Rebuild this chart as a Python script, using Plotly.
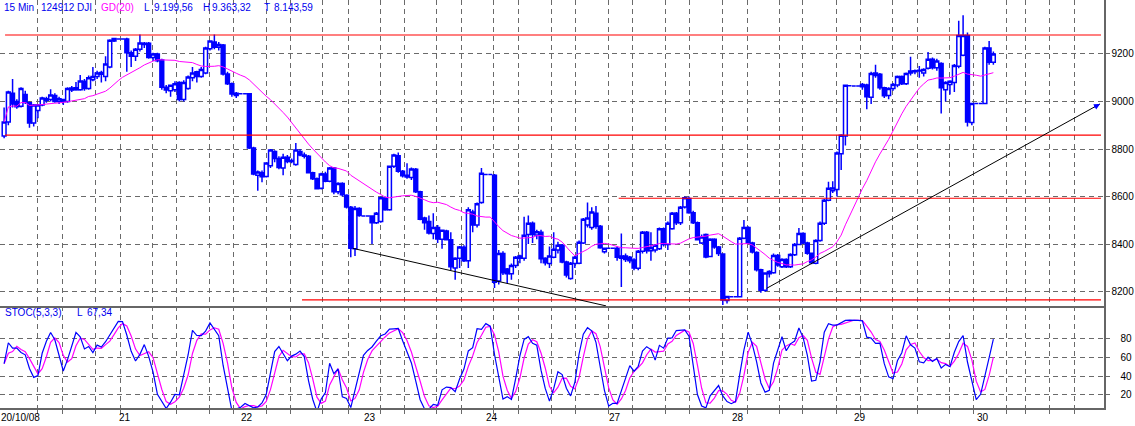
import numpy as np
import pandas as pd
import plotly.graph_objects as go

# ---------------- data ----------------
DAY_LABELS = ["20/10/08", "21", "22", "23", "24", "27", "28", "29", "30"]

# each bar: [open, high, low, close]
D20 = [[8855, 8975, 8845, 8914], [8914, 9045, 8900, 9040], [9035, 9095, 8975, 8990],
       [9000, 9010, 8970, 8978], [8980, 9060, 8975, 9055], [9030, 9045, 8990, 8998],
       [8995, 9000, 8890, 8910], [8910, 8990, 8895, 8985], [8962, 8990, 8930, 8985],
       [8985, 9020, 8980, 9015], [9005, 9020, 8995, 9012], [9008, 9052, 9000, 9027],
       [9025, 9035, 8995, 9000], [9000, 9020, 8990, 9012], [9000, 9012, 8985, 9008],
       [9000, 9060, 8995, 9055], [9048, 9065, 9040, 9057], [9050, 9082, 9045, 9058],
       [9050, 9112, 9045, 9086], [9085, 9095, 9045, 9055], [9055, 9110, 9050, 9100],
       [9092, 9145, 9085, 9105], [9105, 9130, 9095, 9120], [9115, 9130, 9080, 9122],
       [9105, 9190, 9085, 9158], [9145, 9262, 9140, 9258], [9255, 9268, 9250, 9265],
       [9263, 9263, 9263, 9263], [9263, 9263, 9263, 9263]]
D21 = [[9263, 9268, 9125, 9205], [9205, 9215, 9145, 9190], [9190, 9225, 9170, 9220],
       [9220, 9282, 9210, 9246], [9240, 9250, 9225, 9245], [9245, 9250, 9180, 9185],
       [9185, 9205, 9170, 9200], [9200, 9205, 9165, 9172], [9175, 9180, 9050, 9060],
       [9060, 9070, 9035, 9048], [9045, 9072, 9020, 9068], [9050, 9085, 9040, 9075],
       [9080, 9085, 9000, 9008], [9008, 9090, 9000, 9080], [9055, 9110, 9050, 9103],
       [9100, 9145, 9085, 9120], [9125, 9130, 9080, 9105], [9105, 9145, 9100, 9135],
       [9120, 9230, 9115, 9225], [9222, 9258, 9215, 9255], [9250, 9282, 9220, 9228],
       [9228, 9250, 9215, 9240], [9238, 9242, 9110, 9116], [9116, 9125, 9070, 9075],
       [9075, 9080, 9020, 9032], [9025, 9040, 9015, 9035],
       [9033, 9033, 9033, 9033], [9033, 9033, 9033, 9033]]
D22 = [[9033, 9036, 8800, 8804], [8804, 8810, 8690, 8695], [8690, 8710, 8625, 8703],
       [8700, 8710, 8660, 8683], [8685, 8745, 8680, 8741], [8730, 8800, 8720, 8796],
       [8790, 8795, 8745, 8760], [8760, 8770, 8715, 8722], [8720, 8780, 8690, 8766],
       [8765, 8775, 8740, 8748], [8748, 8760, 8740, 8752], [8735, 8826, 8730, 8796],
       [8790, 8800, 8770, 8775], [8775, 8785, 8760, 8770], [8770, 8775, 8698, 8700],
       [8700, 8705, 8670, 8675], [8675, 8680, 8630, 8633], [8635, 8700, 8630, 8695],
       [8695, 8705, 8660, 8665], [8665, 8725, 8660, 8720], [8720, 8725, 8610, 8620],
       [8620, 8660, 8610, 8655], [8655, 8660, 8600, 8608], [8606, 8610, 8550, 8556],
       [8555, 8560, 8345, 8383], [8380, 8560, 8350, 8550], [8550, 8555, 8515, 8520],
       [8518, 8518, 8518, 8518], [8518, 8518, 8518, 8518]]
D23 = [[8518, 8520, 8400, 8490], [8490, 8535, 8485, 8530], [8495, 8600, 8490, 8595],
       [8594, 8600, 8540, 8545], [8545, 8730, 8540, 8728], [8728, 8780, 8720, 8775],
       [8772, 8785, 8700, 8707], [8707, 8712, 8680, 8688], [8682, 8740, 8675, 8690],
       [8680, 8722, 8670, 8716], [8715, 8720, 8615, 8620], [8620, 8625, 8500, 8505],
       [8510, 8515, 8460, 8490], [8495, 8520, 8440, 8447], [8445, 8530, 8420, 8470],
       [8470, 8480, 8405, 8422], [8420, 8462, 8380, 8458], [8455, 8460, 8415, 8418],
       [8418, 8450, 8290, 8305], [8300, 8345, 8250, 8340], [8340, 8392, 8300, 8388],
       [8387, 8395, 8325, 8330], [8330, 8555, 8300, 8545], [8535, 8545, 8450, 8480],
       [8480, 8575, 8470, 8570], [8575, 8720, 8570, 8698],
       [8693, 8693, 8693, 8693], [8693, 8693, 8693, 8693]]
D24 = [[8690, 8695, 8215, 8240], [8245, 8375, 8230, 8360], [8360, 8370, 8270, 8280],
       [8295, 8300, 8236, 8275], [8275, 8318, 8250, 8310], [8310, 8350, 8300, 8345],
       [8340, 8355, 8320, 8350], [8340, 8515, 8330, 8437], [8440, 8520, 8400, 8488],
       [8488, 8495, 8405, 8440], [8438, 8460, 8420, 8452], [8450, 8460, 8320, 8338],
       [8340, 8345, 8310, 8322], [8318, 8390, 8300, 8350], [8345, 8450, 8340, 8378],
       [8375, 8410, 8360, 8395], [8395, 8400, 8320, 8325], [8325, 8330, 8260, 8270],
       [8255, 8325, 8250, 8320], [8318, 8350, 8300, 8345], [8320, 8415, 8315, 8408],
       [8405, 8510, 8400, 8505], [8480, 8575, 8470, 8510], [8470, 8555, 8460, 8535],
       [8530, 8560, 8465, 8475], [8475, 8480, 8380, 8385], [8368, 8385, 8360, 8383],
       [8383, 8383, 8383, 8383], [8383, 8383, 8383, 8383]]
D27 = [[8383, 8390, 8330, 8345], [8350, 8445, 8220, 8340], [8350, 8360, 8325, 8335],
       [8345, 8350, 8320, 8330], [8333, 8340, 8290, 8300], [8298, 8375, 8290, 8370],
       [8370, 8455, 8360, 8450], [8450, 8455, 8360, 8372], [8372, 8450, 8330, 8385],
       [8375, 8400, 8365, 8395], [8380, 8470, 8375, 8465], [8465, 8470, 8390, 8398],
       [8398, 8495, 8375, 8488], [8465, 8535, 8460, 8530], [8530, 8535, 8480, 8490],
       [8490, 8560, 8480, 8555], [8556, 8600, 8550, 8595], [8592, 8600, 8528, 8532],
       [8532, 8540, 8485, 8490], [8490, 8495, 8415, 8418], [8405, 8440, 8400, 8430],
       [8440, 8445, 8340, 8346], [8348, 8425, 8345, 8420], [8420, 8425, 8380, 8388],
       [8388, 8392, 8350, 8360], [8358, 8362, 8143.59, 8165], [8163, 8182, 8150, 8180],
       [8178, 8178, 8178, 8178], [8178, 8178, 8178, 8178]]
D28 = [[8178, 8430, 8175, 8425], [8425, 8502, 8420, 8470], [8470, 8475, 8400, 8405],
       [8405, 8410, 8360, 8367], [8365, 8370, 8285, 8292], [8292, 8296, 8195, 8206],
       [8206, 8282, 8200, 8278], [8275, 8290, 8260, 8285], [8280, 8360, 8275, 8352],
       [8352, 8358, 8305, 8312], [8305, 8340, 8300, 8335], [8335, 8340, 8300, 8305],
       [8305, 8362, 8300, 8356], [8355, 8405, 8350, 8398], [8398, 8468, 8395, 8445],
       [8445, 8450, 8400, 8405], [8405, 8410, 8355, 8362], [8362, 8365, 8315, 8322],
       [8320, 8420, 8315, 8415], [8415, 8495, 8410, 8488], [8488, 8590, 8480, 8585],
       [8585, 8662, 8580, 8635], [8625, 8665, 8615, 8636], [8630, 8790, 8600, 8783],
       [8780, 8862, 8712, 8858], [8855, 9070, 8815, 9068], [9066, 9066, 9066, 9066],
       [9065, 9065, 9065, 9065], [9065, 9065, 9065, 9065]]
D29 = [[9062, 9078, 9050, 9072], [9070, 9075, 8968, 9020], [9018, 9125, 8990, 9118],
       [9110, 9155, 9100, 9120], [9115, 9120, 9050, 9058], [9058, 9062, 9015, 9024],
       [9025, 9060, 9010, 9055], [9055, 9078, 9045, 9072], [9070, 9110, 9060, 9105],
       [9105, 9110, 9070, 9075], [9075, 9122, 9070, 9118], [9120, 9188, 9110, 9128],
       [9125, 9135, 9115, 9130], [9128, 9150, 9100, 9132], [9120, 9140, 9105, 9135],
       [9140, 9208, 9135, 9178], [9178, 9185, 9135, 9142], [9142, 9180, 9130, 9170],
       [9160, 9165, 8950, 9058], [9050, 9085, 9000, 9080], [9072, 9090, 9030, 9085],
       [9080, 9158, 9040, 9152], [9148, 9340, 9140, 9278], [9195, 9363.32, 9190, 9278],
       [9278, 9290, 8895, 8914], [8912, 8995, 8900, 8992],
       [8992, 8992, 8992, 8992], [8992, 8992, 8992, 8992]]
D30 = [[8992, 9230, 8990, 9225], [9225, 9255, 9155, 9165], [9165, 9210, 9155, 9199.56]]

DAYS = [D20, D21, D22, D23, D24, D27, D28, D29, D30]

HEADER = [("15 Min", 3, "#0000ee"), ("124912", 40, "#0000ee"), ("DJI", 76, "#0000ee"),
          ("GD(20)", 100, "#ff00ff"), ("L", 143, "#0000ee"), ("9.199,56", 153, "#0000ee"),
          ("H", 202, "#0000ee"), ("9.363,32", 211, "#0000ee"), ("T", 263, "#0000ee"),
          ("8.143,59", 273, "#0000ee")]
STOCH_HEADER = [("STOC(5,3,3)", 4), ("L", 76), ("67,34", 86)]

PRICE_TICKS = [8200, 8400, 8600, 8800, 9000, 9200]
STOCH_TICKS = [20, 40, 60, 80]

# support / resistance levels: (price, start day-position)
LEVELS = [(9280, 0.025), (8859, 0.025), (8593, 5.03), (8165, 2.447)]
LEVEL_END = 8.964
# trend lines: (day-pos, price) -> (day-pos, price)
TREND_A = ((2.863, 8382), (4.927, 8140))
TREND_B = ((6.237, 8214), (8.956, 8990))

# ---------------- layout constants ----------------
W, H = 1135, 426
PLOT_R = 1104      # right edge of plot area (px)
PLOT_B = 408       # bottom of plot area (px)
DAY_PX = 122.6
X0_PX = 2.0
GRID_PX = [37, 62, 95, 120, 152, 176, 209, 233, 266, 290, 322, 348, 380, 404, 436, 461,
           493, 518, 551, 575, 608, 632, 665, 689, 722, 747, 779, 802, 836, 860, 892, 917,
           949, 973, 1006, 1025, 1049, 1074]

BLUE = "#0000ff"
MAG = "#ff00ff"
GRID = "#6a6a6a"
FONT = "Liberation Sans, Arial, sans-serif"


def px2day(px):
    return (px - X0_PX) / DAY_PX


# ---------------- build series ----------------
xs, o, h, l, c = [], [], [], [], []
for k, day in enumerate(DAYS):
    n = len(day) if k < len(DAYS) - 1 else 29
    for j, bar in enumerate(day):
        xs.append(k + (j + 0.5) / n)
        o.append(bar[0]); h.append(bar[1]); l.append(bar[2]); c.append(bar[3])

cs = pd.Series(c, dtype=float)
ma = cs.rolling(20, min_periods=1).mean()
hh = pd.Series(h, dtype=float).rolling(5, min_periods=1).max()
ll = pd.Series(l, dtype=float).rolling(5, min_periods=1).min()
rng = (hh - ll).replace(0, np.nan)
fast = (100 * (cs - ll) / rng).ffill().fillna(50)
slowk = fast.rolling(3, min_periods=1).mean()
slowd = slowk.rolling(3, min_periods=1).mean()

# ---------------- figure ----------------
fig = go.Figure()
fig.add_trace(go.Candlestick(
    x=xs, open=o, high=h, low=l, close=c, xaxis="x", yaxis="y",
    increasing=dict(line=dict(color=BLUE, width=1.5), fillcolor="white"),
    decreasing=dict(line=dict(color=BLUE, width=1.5), fillcolor=BLUE),
    whiskerwidth=0, showlegend=False, hoverinfo="skip"))
fig.add_trace(go.Scatter(x=xs, y=ma, mode="lines", xaxis="x", yaxis="y",
                         line=dict(color=MAG, width=1), showlegend=False, hoverinfo="skip"))
fig.add_trace(go.Scatter(x=xs, y=slowd, mode="lines", xaxis="x2", yaxis="y2",
                         line=dict(color=MAG, width=1.2), showlegend=False, hoverinfo="skip"))
fig.add_trace(go.Scatter(x=xs, y=slowk, mode="lines", xaxis="x2", yaxis="y2",
                         line=dict(color=BLUE, width=1.2), showlegend=False, hoverinfo="skip"))

grid_x = [px2day(p) for p in GRID_PX]
xrange_ = [px2day(0), px2day(PLOT_R)]

axis_common = dict(showgrid=True, gridcolor=GRID, griddash="5px,4px", gridwidth=1,
                   zeroline=False, showline=True, linecolor="#666666", linewidth=1.5)

shapes = []
for price, start in LEVELS:
    shapes.append(dict(type="line", xref="x", yref="y", x0=start, x1=LEVEL_END,
                       y0=price, y1=price, line=dict(color="#ff0000", width=1.2)))
for (xa, ya), (xb, yb) in (TREND_A, TREND_B):
    shapes.append(dict(type="line", xref="x", yref="y", x0=xa, y0=ya, x1=xb, y1=yb,
                       line=dict(color="#000000", width=1)))

annotations = []
for txt, px, col in HEADER:
    annotations.append(dict(text=txt, xref="paper", yref="paper", x=px / PLOT_R,
                            y=1 - 7 / PLOT_B, xanchor="left", yanchor="middle",
                            showarrow=False, font=dict(family=FONT, size=10, color=col),
                            borderpad=0))
for txt, px in STOCH_HEADER:
    annotations.append(dict(text=txt, xref="paper", yref="paper", x=px / PLOT_R,
                            y=1 - 312 / PLOT_B, xanchor="left", yanchor="middle",
                            showarrow=False, font=dict(family=FONT, size=10, color="#0000ee"),
                            borderpad=0))
for k, lab in enumerate(DAY_LABELS):
    annotations.append(dict(text=lab, xref="x2", yref="paper", x=k if k else px2day(0),
                            y=-10 / PLOT_B, xanchor="center" if k else "left",
                            yanchor="middle", showarrow=False,
                            font=dict(family=FONT, size=10, color="#000000"), borderpad=0))
# arrow head at the end of the rising trend line
(xa, ya), (xb, yb) = TREND_B
annotations.append(dict(x=xb, y=yb, ax=xb - 0.06, ay=yb - (yb - ya) / (xb - xa) * 0.06,
                        xref="x", yref="y", axref="x", ayref="y", text="", showarrow=True,
                        arrowhead=2, arrowsize=1, arrowwidth=1.2, arrowcolor=BLUE))

fig.update_layout(
    template="none", width=W, height=H,
    margin=dict(l=0, r=W - PLOT_R, t=0, b=H - PLOT_B),
    paper_bgcolor="white", plot_bgcolor="white",
    font=dict(family=FONT, size=10, color="#000000"),
    showlegend=False,
    xaxis=dict(domain=[0, 1], anchor="y", range=xrange_, tickmode="array", tickvals=grid_x,
               showticklabels=False, ticks="", rangeslider=dict(visible=False), **axis_common),
    xaxis2=dict(domain=[0, 1], anchor="y2", matches="x", range=xrange_, tickmode="array",
                tickvals=grid_x, showticklabels=False, ticks="outside", ticklen=4,
                tickcolor=GRID, **axis_common),
    yaxis=dict(domain=[1 - 306 / PLOT_B, 1], anchor="x", side="right",
               range=[8139.6, 9427.2], tickmode="array", tickvals=PRICE_TICKS,
               ticktext=[str(v) for v in PRICE_TICKS], ticks="outside", ticklen=4,
               tickcolor=GRID, tickfont=dict(family=FONT, size=10), **axis_common),
    yaxis2=dict(domain=[0, 1 - 306 / PLOT_B], anchor="x2", side="right",
                range=[6.2, 114.2], tickmode="array", tickvals=STOCH_TICKS,
                ticktext=[str(v) for v in STOCH_TICKS], ticks="outside", ticklen=4,
                tickcolor=GRID, ticklabelstandoff=9, tickfont=dict(family=FONT, size=10),
                **axis_common),
    boxgap=0.1,
    boxgroupgap=0,
    shapes=shapes,
    annotations=annotations,
)

fig.write_html("out.html",
               config={"displayModeBar": False, "staticPlot": True},
               post_script="document.body.style.margin='0';document.body.style.padding='0';")
